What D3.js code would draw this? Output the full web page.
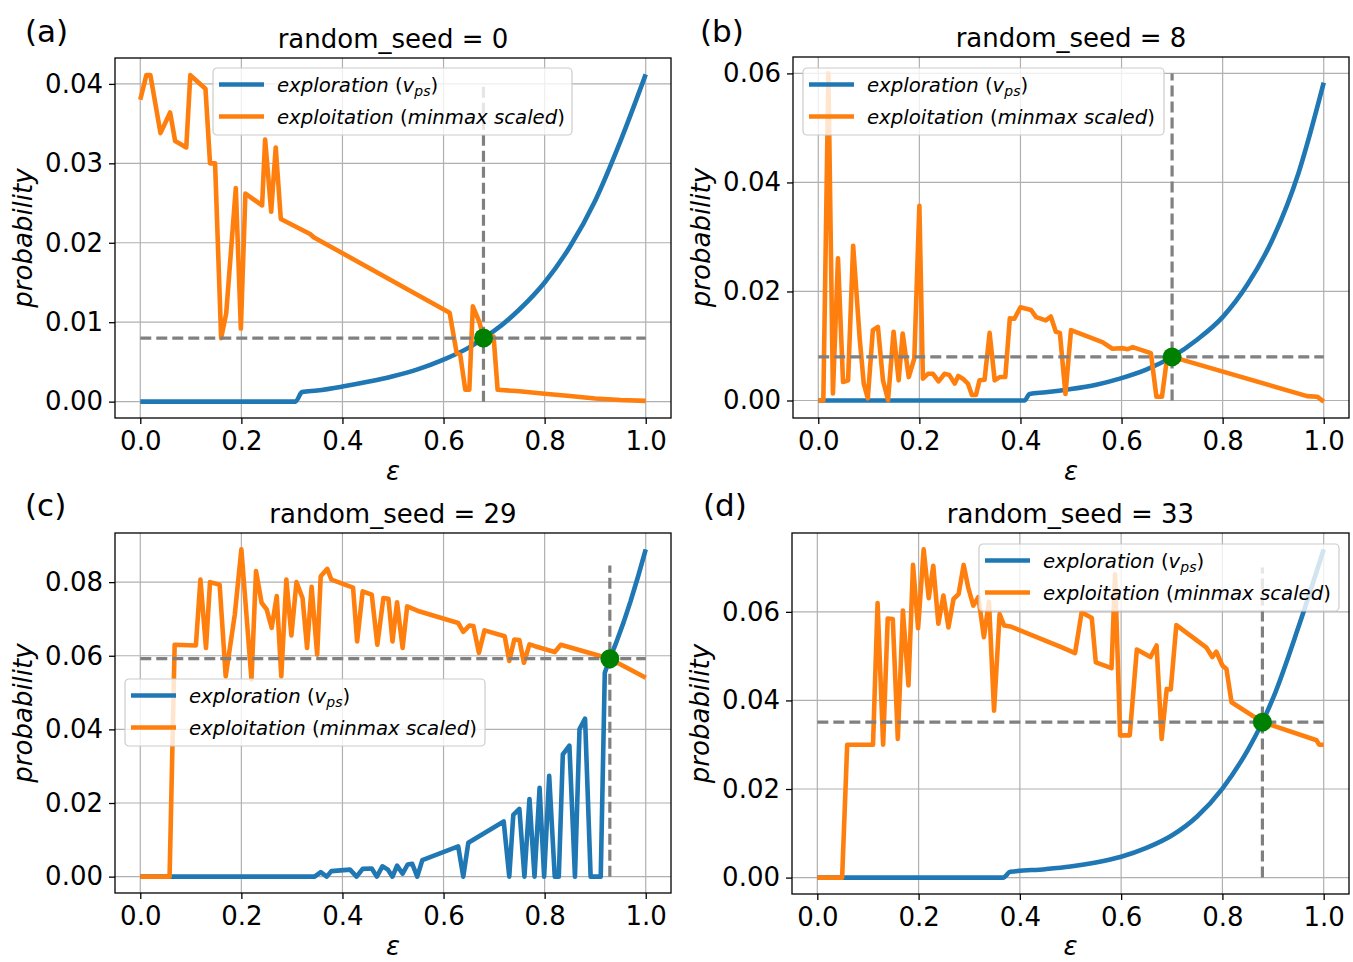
<!DOCTYPE html>
<html>
<head>
<meta charset="utf-8">
<script src="https://cdn.jsdelivr.net/npm/d3@7"></script>
<style>
  body { margin: 0; background: #fff; }
  svg { display: block; font-family: "DejaVu Sans", sans-serif; }
</style>
</head>
<body>
<div id="viz"></div>
<script>
// values, [epsilon, probability]
const exploreA = [[0,0],[0.307,0],[0.320,0.0012],[0.35,0.0014],[0.4,0.0019],[0.45,0.0025],[0.5,0.0032],[0.55,0.0041],[0.6,0.0053],[0.65,0.0068],[0.679,0.0080],[0.7,0.0089],[0.75,0.0116],[0.8,0.0150],[0.85,0.0195],[0.9,0.0253],[0.95,0.0328],[1.0,0.0412]];
const exploitA = [[0,0.0380],[0.012,0.0411],[0.020,0.0411],[0.040,0.0338],[0.059,0.0364],[0.069,0.0328],[0.091,0.0320],[0.099,0.0411],[0.129,0.0394],[0.138,0.0300],[0.148,0.0300],[0.160,0.0080],[0.170,0.0111],[0.189,0.0269],[0.199,0.0092],[0.208,0.0262],[0.241,0.0247],[0.247,0.0330],[0.259,0.0239],[0.268,0.0320],[0.278,0.0230],[0.336,0.0211],[0.343,0.0207],[0.612,0.0112],[0.626,0.0061],[0.633,0.0059],[0.643,0.0015],[0.651,0.0015],[0.658,0.0120],[0.671,0.0100],[0.679,0.0080],[0.699,0.0082],[0.707,0.0015],[0.75,0.0013],[0.8,0.0010],[0.85,0.0007],[0.9,0.0004],[0.95,0.0002],[1.0,0.0001]];

const exploreB = [[0,0],[0.408,0],[0.418,0.0012],[0.45,0.0015],[0.5,0.0021],[0.55,0.0029],[0.6,0.0041],[0.65,0.0057],[0.7,0.0080],[0.75,0.0112],[0.8,0.0153],[0.85,0.0214],[0.9,0.0298],[0.95,0.0417],[1.0,0.0583]];
const exploitB = [[0,0],[0.010,0],[0.020,0.0600],[0.029,0.0013],[0.039,0.0261],[0.049,0.0034],[0.059,0.0037],[0.069,0.0284],[0.082,0.0113],[0.090,0.0031],[0.098,0.0004],[0.108,0.0129],[0.118,0.0135],[0.128,0.0037],[0.138,0.0001],[0.149,0.0126],[0.159,0.0037],[0.167,0.0123],[0.179,0.0043],[0.190,0.0077],[0.200,0.0357],[0.207,0.0040],[0.217,0.0049],[0.227,0.0049],[0.238,0.0035],[0.250,0.0049],[0.259,0.0047],[0.270,0.0031],[0.277,0.0045],[0.286,0.0040],[0.296,0.0031],[0.304,0.0010],[0.312,0.0010],[0.319,0.0037],[0.329,0.0038],[0.339,0.0124],[0.349,0.0037],[0.359,0.0043],[0.370,0.0043],[0.379,0.0151],[0.388,0.0150],[0.400,0.0171],[0.421,0.0166],[0.431,0.0153],[0.450,0.0147],[0.460,0.0154],[0.470,0.0126],[0.478,0.0124],[0.489,0.0012],[0.500,0.0129],[0.562,0.0107],[0.582,0.0095],[0.602,0.0096],[0.612,0.0094],[0.622,0.0098],[0.658,0.0087],[0.669,0.0007],[0.680,0.0007],[0.689,0.0071],[0.700,0.0080],[0.967,0.0008],[0.987,0.0007],[1.0,-0.0002]];

const exploreC = [[0,0],[0.345,0],[0.357,0.0012],[0.369,0],[0.378,0.0015],[0.415,0.0019],[0.428,0],[0.440,0.0021],[0.458,0.0022],[0.468,0],[0.479,0.0028],[0.490,0.0019],[0.499,0],[0.508,0.0030],[0.519,0.0008],[0.529,0.0033],[0.538,0.0035],[0.548,0],[0.558,0.0045],[0.629,0.0082],[0.639,0],[0.649,0.0092],[0.719,0.0150],[0.730,0],[0.738,0.0168],[0.750,0.0184],[0.760,0],[0.770,0.0211],[0.780,0],[0.790,0.0241],[0.799,0],[0.809,0.0274],[0.820,0],[0.828,0],[0.836,0.0332],[0.849,0.0356],[0.860,0],[0.869,0.0401],[0.880,0.0429],[0.891,0],[0.911,0],[0.919,0.0554],[0.929,0.0592],[0.940,0.0630],[0.956,0.0690],[0.970,0.0748],[0.985,0.0816],[1.0,0.0889]];
const exploitC = [[0,0],[0.058,0],[0.068,0.0630],[0.110,0.0628],[0.119,0.0807],[0.130,0.0621],[0.138,0.0800],[0.157,0.0793],[0.169,0.0544],[0.187,0.0712],[0.200,0.0889],[0.220,0.0535],[0.229,0.0830],[0.240,0.0744],[0.250,0.0726],[0.260,0.0676],[0.270,0.0762],[0.279,0.0544],[0.289,0.0807],[0.299,0.0655],[0.309,0.0800],[0.321,0.0757],[0.330,0.0621],[0.339,0.0787],[0.350,0.0603],[0.357,0.0816],[0.370,0.0836],[0.378,0.0807],[0.421,0.0785],[0.429,0.0639],[0.440,0.0775],[0.458,0.0766],[0.469,0.0630],[0.481,0.0757],[0.491,0.0755],[0.499,0.0639],[0.508,0.0745],[0.519,0.0621],[0.528,0.0734],[0.553,0.0720],[0.629,0.0689],[0.639,0.0665],[0.651,0.0682],[0.659,0.0681],[0.670,0.0608],[0.681,0.0669],[0.721,0.0653],[0.730,0.0586],[0.740,0.0644],[0.750,0.0643],[0.759,0.0581],[0.770,0.0631],[0.781,0.0626],[0.820,0.0610],[0.832,0.0630],[0.929,0.0592],[1.0,0.0540]];

const exploreD = [[0,0],[0.367,0],[0.381,0.0013],[0.45,0.0019],[0.5,0.0025],[0.55,0.0034],[0.6,0.0047],[0.65,0.0067],[0.7,0.0095],[0.75,0.0138],[0.8,0.0201],[0.85,0.0288],[0.879,0.0351],[0.9,0.0405],[0.95,0.0565],[1.0,0.0741]];
const exploitD = [[0,0],[0.049,0],[0.059,0.0300],[0.110,0.0300],[0.119,0.0620],[0.130,0.0300],[0.139,0.0585],[0.149,0.0584],[0.159,0.0313],[0.169,0.0603],[0.180,0.0434],[0.189,0.0706],[0.199,0.0563],[0.210,0.0741],[0.220,0.0631],[0.229,0.0704],[0.239,0.0573],[0.249,0.0637],[0.259,0.0565],[0.269,0.0629],[0.279,0.0640],[0.289,0.0706],[0.298,0.0655],[0.308,0.0614],[0.318,0.0633],[0.329,0.0543],[0.339,0.0623],[0.349,0.0377],[0.360,0.0595],[0.369,0.0569],[0.381,0.0567],[0.483,0.0520],[0.509,0.0507],[0.522,0.0599],[0.542,0.0586],[0.550,0.0486],[0.581,0.0473],[0.588,0.0685],[0.598,0.0321],[0.617,0.0321],[0.631,0.0515],[0.658,0.0498],[0.670,0.0524],[0.680,0.0313],[0.690,0.0426],[0.698,0.0425],[0.709,0.0570],[0.768,0.0520],[0.780,0.0498],[0.788,0.0510],[0.800,0.0479],[0.808,0.0471],[0.818,0.0396],[0.879,0.0351],[0.986,0.0310],[0.991,0.0300],[1.0,0.0300]];

// crossing point [eps, prob] and top of the vertical guide
const crossA = [0.679, 0.0080], vTopA = 0.040;
const crossB = [0.700, 0.0080], vTopB = 0.060;
const crossC = [0.929, 0.0592], vTopC = 0.0845;
const crossD = [0.879, 0.0351], vTopD = 0.070;

const titles = ["random_seed = 0", "random_seed = 8", "random_seed = 29", "random_seed = 33"];
const tags = ["(a)", "(b)", "(c)", "(d)"];
const xTicks = [0, 0.2, 0.4, 0.6, 0.8, 1.0];
const yTicksA = [0, 0.01, 0.02, 0.03, 0.04];
const yTicksB = [0, 0.02, 0.04, 0.06];
const yTicksC = [0, 0.02, 0.04, 0.06, 0.08];
const yTicksD = [0, 0.02, 0.04, 0.06];

const blue = "#1f77b4", orange = "#ff7f0e";
const lw = 4.6;

const panels = [
  {box: {l: 115, t: 58, r: 671, b: 418}, explore: exploreA, exploit: exploitA, cross: crossA, vTop: vTopA, yTicks: yTicksA, smooth: true,
   leg: {x: 213, y: 68, w: 359}, tagX: 25, tagY: 42},
  {box: {l: 793, t: 57, r: 1349, b: 418}, explore: exploreB, exploit: exploitB, cross: crossB, vTop: vTopB, yTicks: yTicksB, smooth: true,
   leg: {x: 803, y: 68, w: 361}, tagX: 700, tagY: 42},
  {box: {l: 115, t: 533, r: 671, b: 893}, explore: exploreC, exploit: exploitC, cross: crossC, vTop: vTopC, yTicks: yTicksC, smooth: false,
   leg: {x: 125, y: 679, w: 360}, tagX: 25, tagY: 516},
  {box: {l: 792, t: 533, r: 1349, b: 894}, explore: exploreD, exploit: exploitD, cross: crossD, vTop: vTopD, yTicks: yTicksD, smooth: true,
   leg: {x: 979, y: 544, w: 360}, tagX: 703, tagY: 516}
];

const svg = d3.select("#viz").append("svg")
  .attr("width", 1353)
  .attr("height", 962);

panels.forEach((p, i) => {
  const {l, t, r, b} = p.box;
  const x = d3.scaleLinear().domain([-0.05, 1.05]).range([l, r]);
  const ys = p.explore.concat(p.exploit).map(d => d[1]);
  const lo = d3.min(ys), hi = d3.max(ys), pad = (hi - lo) * 0.05;
  const y = d3.scaleLinear().domain([lo - pad, hi + pad]).range([b, t]);

  const g = svg.append("g");

  g.append("clipPath").attr("id", "clip" + i)
    .append("rect").attr("x", l).attr("y", t).attr("width", r - l).attr("height", b - t);

  // grid
  g.append("g").selectAll("line").data(xTicks).join("line")
    .attr("x1", d => x(d)).attr("x2", d => x(d)).attr("y1", t).attr("y2", b)
    .attr("stroke", "#b0b0b0").attr("stroke-width", 1.2);
  g.append("g").selectAll("line").data(p.yTicks).join("line")
    .attr("x1", l).attr("x2", r).attr("y1", d => y(d)).attr("y2", d => y(d))
    .attr("stroke", "#b0b0b0").attr("stroke-width", 1.2);

  // axes
  const xAxis = g.append("g")
    .attr("transform", `translate(0,${b})`)
    .call(d3.axisBottom(x).tickValues(xTicks).tickFormat(d3.format(".1f")).tickSize(6).tickPadding(8));
  const yAxis = g.append("g")
    .attr("transform", `translate(${l},0)`)
    .call(d3.axisLeft(y).tickValues(p.yTicks).tickFormat(d3.format(".2f")).tickSize(6).tickPadding(6));
  [xAxis, yAxis].forEach(a => {
    a.select(".domain").remove();
    a.attr("font-size", 26).attr("font-family", "DejaVu Sans");
    a.selectAll("line").attr("stroke", "#000").attr("stroke-width", 1.3);
    a.selectAll("text").attr("fill", "#000");
  });

  const plot = g.append("g").attr("clip-path", `url(#clip${i})`);

  const exploreLine = d3.line()
    .x(d => x(d[0])).y(d => y(d[1]))
    .curve(p.smooth ? d3.curveMonotoneX : d3.curveLinear);
  const exploitLine = d3.line().x(d => x(d[0])).y(d => y(d[1]));

  plot.append("path").datum(p.explore)
    .attr("d", exploreLine)
    .attr("fill", "none").attr("stroke", blue).attr("stroke-width", lw)
    .attr("stroke-linejoin", "round");
  plot.append("path").datum(p.exploit)
    .attr("d", exploitLine)
    .attr("fill", "none").attr("stroke", orange).attr("stroke-width", lw)
    .attr("stroke-linejoin", "round");

  // guides through the crossing point
  plot.append("line")
    .attr("x1", x(0)).attr("x2", x(1)).attr("y1", y(p.cross[1])).attr("y2", y(p.cross[1]))
    .attr("stroke", "#808080").attr("stroke-width", 3.2).attr("stroke-dasharray", "11,5");
  plot.append("line")
    .attr("x1", x(p.cross[0])).attr("x2", x(p.cross[0])).attr("y1", y(0)).attr("y2", y(p.vTop))
    .attr("stroke", "#808080").attr("stroke-width", 3.2).attr("stroke-dasharray", "11,5");
  plot.append("circle")
    .attr("cx", x(p.cross[0])).attr("cy", y(p.cross[1])).attr("r", 9.5)
    .attr("fill", "#008000");

  g.append("rect")
    .attr("x", l).attr("y", t).attr("width", r - l).attr("height", b - t)
    .attr("fill", "none").attr("stroke", "#000").attr("stroke-width", 1.3);

  // texts
  g.append("text")
    .attr("x", (l + r) / 2).attr("y", t - 10)
    .attr("text-anchor", "middle").attr("font-size", 26)
    .text(titles[i]);
  g.append("text")
    .attr("x", p.tagX).attr("y", p.tagY)
    .attr("font-size", 31)
    .text(tags[i]);
  g.append("text")
    .attr("x", (l + r) / 2).attr("y", Math.min(b + 62, 955))
    .attr("text-anchor", "middle").attr("font-size", 26).attr("font-style", "italic")
    .text("ε");
  g.append("text")
    .attr("transform", `translate(${l - 83},${(t + b) / 2}) rotate(-90)`)
    .attr("text-anchor", "middle").attr("font-size", 26).attr("font-style", "italic")
    .text("probability");

  // legend
  const leg = g.append("g").attr("transform", `translate(${p.leg.x},${p.leg.y})`);
  leg.append("rect")
    .attr("width", p.leg.w).attr("height", 67).attr("rx", 4)
    .attr("fill", "#fff").attr("fill-opacity", 0.8)
    .attr("stroke", "#cccccc").attr("stroke-width", 1.2);
  [blue, orange].forEach((c, k) => {
    leg.append("line")
      .attr("x1", 6).attr("x2", 51).attr("y1", 16.5 + k * 32).attr("y2", 16.5 + k * 32)
      .attr("stroke", c).attr("stroke-width", lw);
  });
  const t1 = leg.append("text").attr("x", 64).attr("y", 23.5).attr("font-size", 19.7);
  t1.append("tspan").attr("font-style", "italic").text("exploration");
  t1.append("tspan").text(" (");
  t1.append("tspan").attr("font-style", "italic").text("v");
  t1.append("tspan").attr("font-style", "italic").attr("font-size", 14).attr("dy", 4).text("ps");
  t1.append("tspan").attr("dy", -4).text(")");
  const t2 = leg.append("text").attr("x", 64).attr("y", 55.5).attr("font-size", 19.7);
  t2.append("tspan").attr("font-style", "italic").text("exploitation");
  t2.append("tspan").text(" (");
  t2.append("tspan").attr("font-style", "italic").text("minmax scaled");
  t2.append("tspan").text(")");
});
</script>
</body>
</html>
